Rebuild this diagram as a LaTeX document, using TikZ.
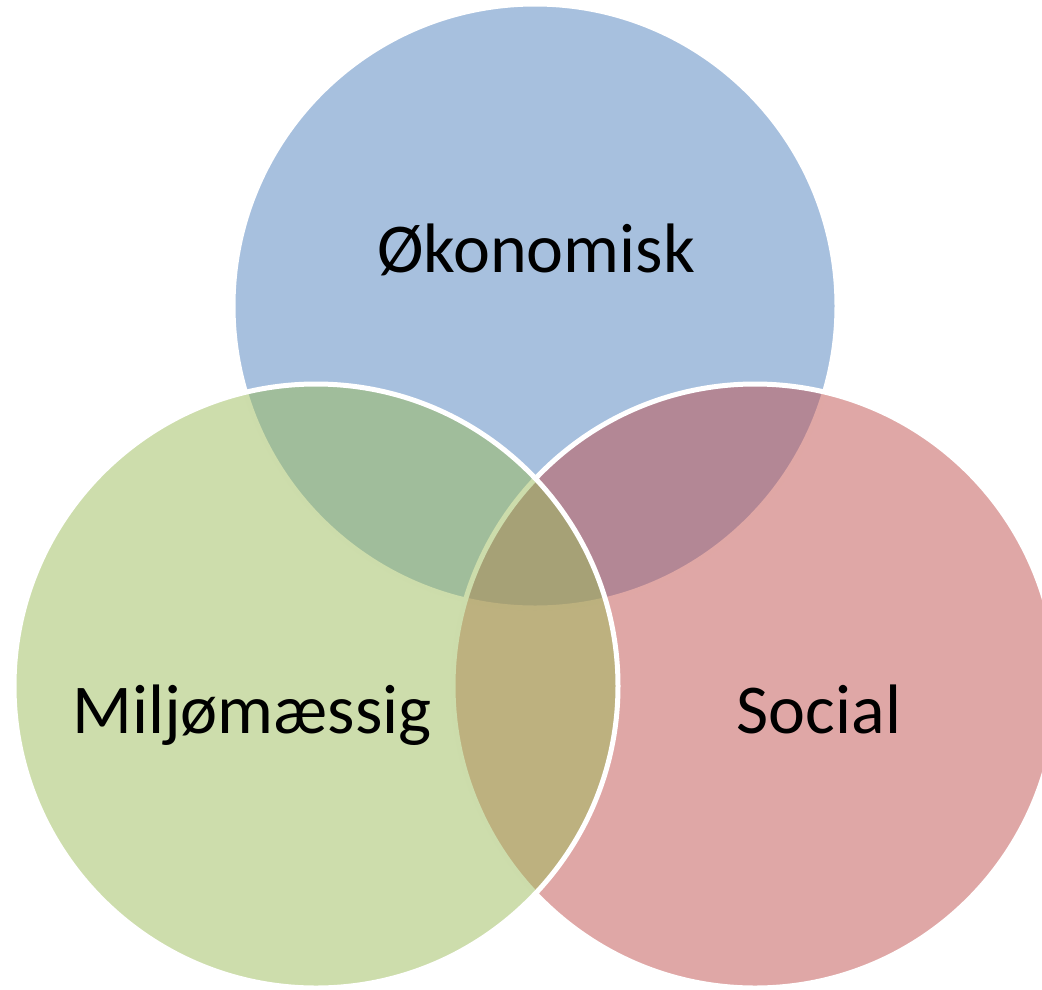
\documentclass[tikz,border=0pt]{standalone}
\usepackage{fontspec}
\setmainfont{Carlito}
\definecolor{vblue}{RGB}{79,129,189}
\definecolor{vred}{RGB}{192,80,77}
\definecolor{vgreen}{RGB}{155,187,89}
\begin{document}
\begin{tikzpicture}[x=1pt,y=-1pt,
  venn/.style={circle,minimum size=604pt,inner sep=0pt,fill opacity=0.5,draw=white,draw opacity=1,line width=5pt},
  lbl/.style={anchor=base,inner sep=0pt,font=\fontsize{70}{84}\selectfont,text=black}]
\useasboundingbox (0,0) rectangle (1042,989);
\node[venn,fill=vblue] (oko) at (535,306) {};
\node[venn,fill=vred] (soc) at (755,686) {};
\node[venn,fill=vgreen] (mil) at (316,686) {};
\node[lbl] (tOko) at (536,272) {Økonomisk};
\node[lbl] (tMil) at (252,733) {Miljømæssig};
\node[lbl] (tSoc) at (819,733) {Social};
\end{tikzpicture}
\end{document}
